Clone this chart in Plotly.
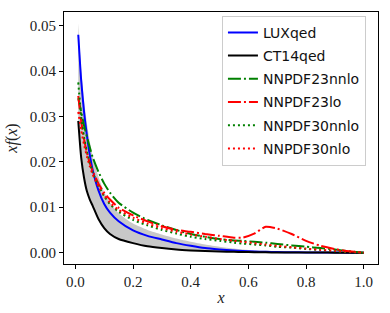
import plotly.graph_objects as go

X = [0.01, 0.02, 0.03, 0.04, 0.05, 0.06, 0.08, 0.10, 0.12, 0.15, 0.20, 0.25, 0.30, 0.35,
     0.40, 0.45, 0.50, 0.55, 0.58, 0.62, 0.66, 0.70, 0.75, 0.80, 0.85, 0.90, 0.95, 1.00]

LUXQED = [0.048, 0.038, 0.031, 0.0258, 0.0215, 0.0182, 0.0137, 0.0107, 0.0088, 0.0069, 0.0049,
          0.0037, 0.0029, 0.0021, 0.0015, 0.001, 0.0007, 0.00045, 0.00035, 0.00025, 0.00018,
          0.00012, 0.00008, 0.00005, 0.00003, 0.00001, 0.000005, 0]
CT14QED = [0.029, 0.021, 0.0165, 0.0135, 0.0117, 0.0103, 0.0074, 0.0054, 0.0041, 0.003, 0.0021,
           0.0014, 0.0010, 0.0007, 0.0005, 0.00035, 0.00025, 0.00018, 0.00014, 0.0001, 0.00007,
           0.00005, 0.00003, 0.00002, 0.00001, 0.000005, 0.000002, 0]
NNPDF23NNLO = [0.034, 0.031, 0.028, 0.0255, 0.0232, 0.021, 0.0178, 0.0152, 0.0132, 0.011, 0.0088,
               0.0072, 0.006, 0.005, 0.0041, 0.0035, 0.003, 0.0027, 0.0026, 0.0024, 0.0022,
               0.0019, 0.0016, 0.0013, 0.001, 0.0007, 0.0003, 0]
NNPDF23LO = [0.0345, 0.029, 0.025, 0.022, 0.0197, 0.018, 0.0152, 0.0132, 0.0117, 0.0099, 0.0082,
             0.0069, 0.0058, 0.005, 0.0046, 0.0041, 0.0037, 0.0033, 0.0033, 0.0042, 0.0057,
             0.0053, 0.0041, 0.0026, 0.0015, 0.0008, 0.0003, 0]
NNPDF30NNLO = [0.0375, 0.030, 0.0255, 0.0222, 0.0197, 0.0177, 0.0147, 0.0124, 0.0107, 0.009, 0.0072,
               0.006, 0.005, 0.0042, 0.0035, 0.003, 0.0026, 0.0022, 0.002, 0.0018, 0.0016,
               0.0013, 0.0011, 0.0008, 0.0006, 0.0003, 0.0001, 0]
NNPDF30NLO = [0.031, 0.027, 0.0238, 0.0212, 0.019, 0.0172, 0.0146, 0.0126, 0.011, 0.0094, 0.0077,
              0.0064, 0.0054, 0.0046, 0.004, 0.0035, 0.003, 0.0026, 0.0024, 0.0021, 0.0018,
              0.0015, 0.0012, 0.0009, 0.0006, 0.0004, 0.0002, 0]
BAND_UPPER = [0.0505, 0.0405, 0.0335, 0.0285, 0.0245, 0.0213, 0.0167, 0.0133, 0.011, 0.0087, 0.0064,
              0.005, 0.004, 0.0031, 0.0024, 0.0018, 0.0013, 0.0009, 0.0007, 0.0005, 0.0004,
              0.0003, 0.0002, 0.00012, 0.00007, 0.00003, 0.00001, 0]
BAND_LOWER = CT14QED

X_TICKS = [0.0, 0.2, 0.4, 0.6, 0.8, 1.0]
Y_TICKS = [0.00, 0.01, 0.02, 0.03, 0.04, 0.05]

SERIES = [
    ("LUXqed", LUXQED, "blue", "solid"),
    ("CT14qed", CT14QED, "black", "solid"),
    ("NNPDF23nnlo", NNPDF23NNLO, "green", "13px,3px,2px,3px"),
    ("NNPDF23lo", NNPDF23LO, "red", "13px,3px,2px,3px"),
    ("NNPDF30nnlo", NNPDF30NNLO, "green", "2px,3px"),
    ("NNPDF30nlo", NNPDF30NLO, "red", "2px,3px"),
]

fig = go.Figure()
fig.add_trace(go.Scatter(x=X, y=BAND_UPPER, mode="lines", line=dict(width=0, shape="spline", smoothing=0.6),
                         showlegend=False, hoverinfo="skip"))
fig.add_trace(go.Scatter(x=X, y=BAND_LOWER, mode="lines", line=dict(width=0, shape="spline", smoothing=0.6),
                         fill="tonexty", fillcolor="rgb(200,200,200)", showlegend=False, hoverinfo="skip"))

for i, (name, ys, color, dash) in enumerate(SERIES):
    fig.add_trace(go.Scatter(x=X, y=ys, mode="lines", name=name, legendgroup=name,
                             line=dict(color=color, width=2, dash=dash, shape="spline", smoothing=0.6)))

axis_common = dict(showline=True, linecolor="black", linewidth=1, mirror=True, automargin=False,
                   ticks="outside", ticklen=4, tickcolor="black", showgrid=False, zeroline=False,
                   tickfont=dict(family="Liberation Serif", size=15, color="#222"))

fig.update_layout(
    width=390, height=313,
    margin=dict(l=64, r=12, t=12, b=49),
    paper_bgcolor="white", plot_bgcolor="white",
    xaxis=dict(range=[-0.0395, 1.0495], tickvals=X_TICKS, tickformat=".1f",
               title=dict(text="<i>x</i>", font=dict(family="Liberation Serif", size=16, color="#222"), standoff=2),
               **axis_common),
    yaxis=dict(range=[-0.0025, 0.053], tickvals=Y_TICKS, tickformat=".2f",
               title=dict(text="<i>xf</i>(<i>x</i>)", font=dict(family="Liberation Serif", size=16, color="#222"), standoff=8),
               **axis_common),
    legend=dict(x=0.503, y=0.985, xanchor="left", yanchor="top",
                bgcolor="rgba(255,255,255,0.85)", bordercolor="#cccccc", borderwidth=1,
                font=dict(family="DejaVu Sans", size=14, color="#111"),
                traceorder="grouped", tracegroupgap=2, itemwidth=30),
)

fig.write_html("out.html", config={"displayModeBar": False},
               post_script="document.body.style.margin='0';document.body.style.overflow='hidden';")
